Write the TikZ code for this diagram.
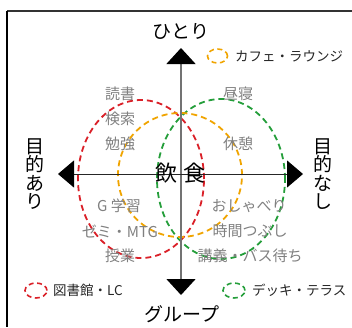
\documentclass[tikz,border=0pt]{standalone}
\usepackage{fontspec}
\setmainfont{Noto Sans CJK JP}
\usetikzlibrary{arrows.meta}
\definecolor{cred}{RGB}{218,32,40}
\definecolor{corange}{RGB}{240,164,0}
\definecolor{cgreen}{RGB}{36,158,58}
\definecolor{cgraytext}{RGB}{128,128,128}
\tikzset{
  circ/.style={line width=1.8pt, dash pattern=on 6pt off 4pt},
  legcirc/.style={line width=1.6pt, dash pattern=on 5pt off 3.5pt},
  act/.style={text=cgraytext, font=\fontsize{15}{15}\selectfont, inner sep=0pt},
  axlabel/.style={text=black, font=\fontsize{19}{19}\selectfont, inner sep=0pt},
  vlabel/.style={text=black, font=\fontsize{19}{18.6}\selectfont, inner sep=0pt, align=center},
  legtext/.style={text=black!85, font=\fontsize{13.5}{13.5}\selectfont, inner sep=0pt, anchor=west},
}
\begin{document}
\begin{tikzpicture}[x=1pt,y=-1pt]
\useasboundingbox (0,0) rectangle (352,327);
% frame
\draw[black!80, line width=1.6pt] (7,11) -- (352,11);
\draw[black, line width=1.2pt] (7,11) -- (7,327);
% ellipses
\draw[circ, cred] (141,179) ellipse [x radius=63pt, y radius=79pt];
\draw[circ, cgreen] (221,179) ellipse [x radius=64pt, y radius=80pt];
\draw[circ, corange] (180,175) circle [radius=62pt];
% axes
\coordinate (vt) at (181,48);
\coordinate (vb) at (181,295);
\coordinate (hl) at (58,174);
\coordinate (hr) at (303,174);
\draw[black!55, line width=1.5pt, {Triangle[width=29pt,length=16pt,color=black]}-{Triangle[width=29pt,length=16pt,color=black]}] (vt) -- (vb);
\draw[black!85, line width=1pt, {Triangle[width=27pt,length=16pt,color=black]}-{Triangle[width=27pt,length=16pt,color=black]}] (hl) -- (hr);
% axis labels
\node[axlabel] (hitori) at (181,31) {ひとり};
\node[axlabel] (group) at (182,314) {グループ};
\node[vlabel] (ari) at (35,174) {目\\的\\あ\\り};
\node[vlabel] (nashi) at (323,174) {目\\的\\な\\し};
\node[text=black, font=\fontsize{22}{22}\selectfont, inner sep=0pt] (in) at (166,173) {飲};
\node[text=black, font=\fontsize{22}{22}\selectfont, inner sep=0pt] (shoku) at (194,173) {食};
% activities
\node[act] (dokusho) at (120,94) {読書};
\node[act] (kensaku) at (120,119) {検索};
\node[act] (benkyo) at (120,144) {勉強};
\node[act] (hirune) at (238,94) {昼寝};
\node[act] (kyukei) at (238,144) {休憩};
\node[act] (gstudy) at (119,206) {G 学習};
\node[act] (zemi) at (120,231) {ゼミ・MTG};
\node[act] (jugyo) at (120,256) {授業};
\node[act] (oshaberi) at (249,206) {おしゃべり};
\node[act] (jikan) at (250,231) {時間つぶし};
\node[act] (kogi) at (250,256) {講義・バス待ち};
% legend
\draw[legcirc, corange] (217.5,56) ellipse [x radius=10pt, y radius=7pt];
\node[legtext] (lcafe) at (235,56) {カフェ・ラウンジ};
\draw[legcirc, cred] (36,290.5) ellipse [x radius=11pt, y radius=7.5pt];
\node[legtext] (llib) at (53,290.5) {図書館・LC};
\draw[legcirc, cgreen] (234,290.5) ellipse [x radius=11pt, y radius=7.5pt];
\node[legtext] (ldeck) at (252,290.5) {デッキ・テラス};
\end{tikzpicture}
\end{document}
